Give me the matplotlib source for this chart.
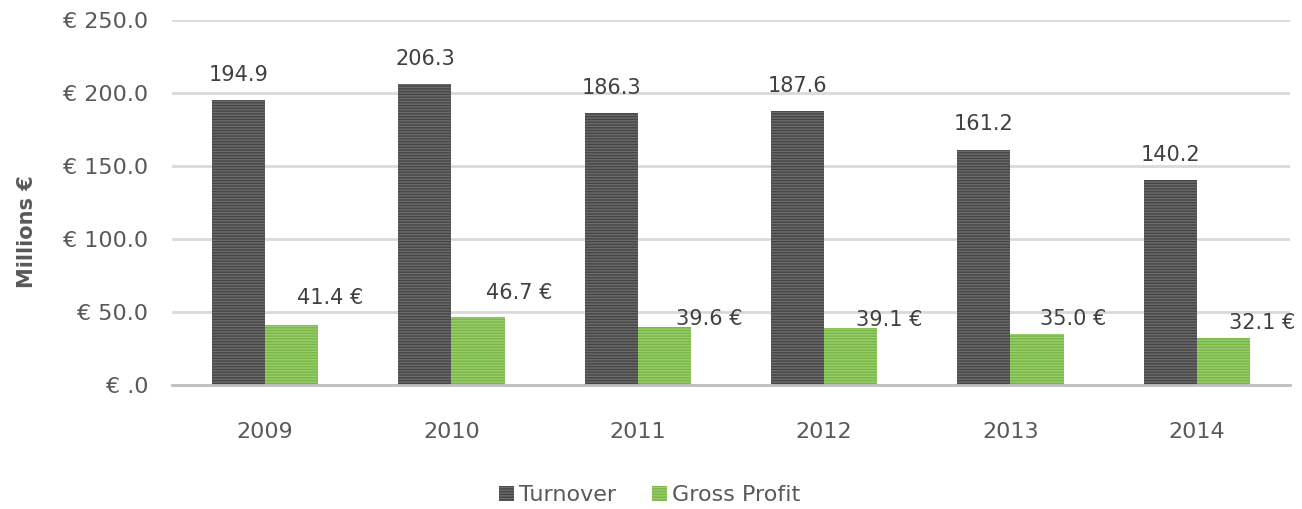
import matplotlib.pyplot as plt
import numpy as np

# chart data
years = ['2009', '2010', '2011', '2012', '2013', '2014']
turnover = [194.9, 206.3, 186.3, 187.6, 161.2, 140.2]
gross_profit = [41.4, 46.7, 39.6, 39.1, 35.0, 32.1]
y_ticks = [0, 50, 100, 150, 200, 250]
y_tick_labels = ['€ .0', '€ 50.0', '€ 100.0', '€ 150.0', '€ 200.0', '€ 250.0']

# label offsets (points) for the profit labels, hand placed like the original
gp_offsets = [(28, 19), (30, 17), (32, 6), (28, 6), (26, 11), (28, 11)]

plt.rcParams['font.family'] = 'DejaVu Sans'
plt.rcParams['hatch.linewidth'] = 1.0
txt = '#595959'

fig = plt.figure(figsize=(13.02, 5.09), dpi=100)
ax = fig.add_axes([172 / 1302, 1 - 385 / 509, 1118 / 1302, 365 / 509])

x = np.arange(len(years))
w = 0.285

ax.bar(x - w / 2, turnover, w, color='#454545', edgecolor='#6b6b6b',
       linewidth=0, hatch='------', zorder=3, label='Turnover')
ax.bar(x + w / 2, gross_profit, w, color='#78b843', edgecolor='#98cc6e',
       linewidth=0, hatch='------', zorder=3, label='Gross Profit')

for i, v in enumerate(turnover):
    ax.annotate('%.1f' % v, (x[i] - w / 2, v), xytext=(0, 11),
                textcoords='offset points', ha='center', va='bottom',
                fontsize=15, color='#404040')
for i, v in enumerate(gross_profit):
    ax.annotate('%.1f €' % v, (x[i] + w / 2, v), xytext=gp_offsets[i],
                textcoords='offset points', ha='center', va='center',
                fontsize=15, color='#404040')

ax.set_xlim(-0.5, len(years) - 0.5)
ax.set_ylim(0, 250)
ax.set_yticks(y_ticks)
ax.set_yticklabels(y_tick_labels)
ax.set_xticks(x)
ax.set_xticklabels(years)
ax.tick_params(axis='both', length=0, labelsize=16, colors=txt)
ax.tick_params(axis='y', pad=17)
ax.tick_params(axis='x', pad=27)
ax.yaxis.grid(True, color='#d9d9d9', linewidth=2, zorder=0)
for s in ['top', 'right', 'left']:
    ax.spines[s].set_visible(False)
ax.spines['bottom'].set_color('#bfbfbf')
ax.spines['bottom'].set_linewidth(2)
ax.spines['bottom'].set_zorder(4)

ax.set_ylabel('Millions €', fontsize=15, fontweight='bold', color=txt)
ax.yaxis.set_label_coords(-0.121, 0.42)

ax.legend(loc='center', bbox_to_anchor=(0.427, -0.302), ncol=2, frameon=False,
          fontsize=16, labelcolor=txt, handlelength=0.7, handleheight=0.7,
          handletextpad=0.2, columnspacing=1.6)

fig.savefig('out.png', dpi=100)
